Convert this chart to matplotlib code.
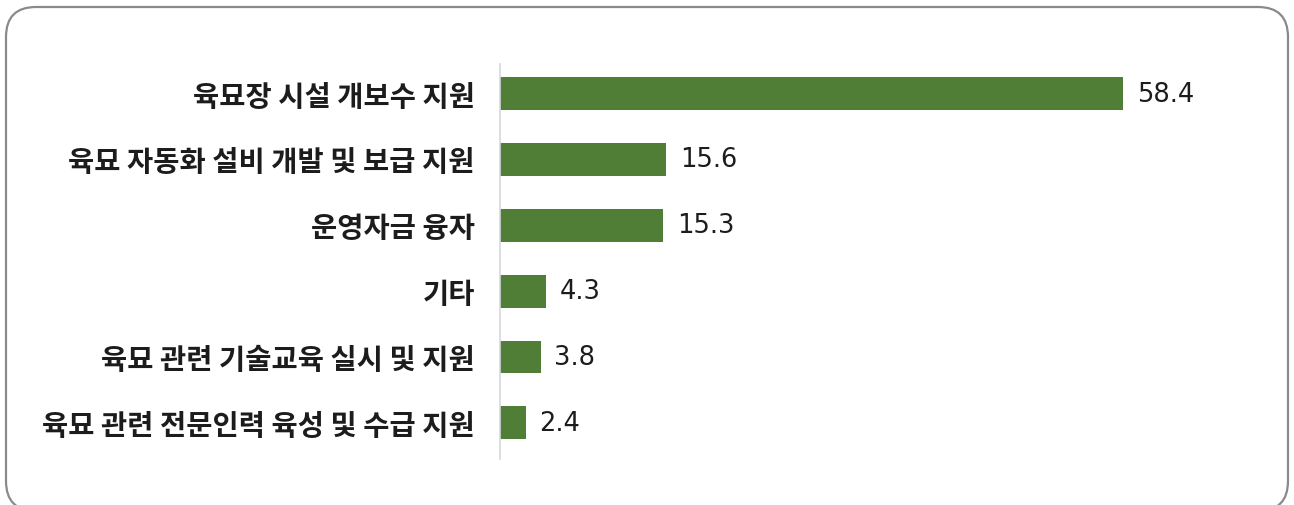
import numpy as np
import matplotlib.pyplot as plt
from matplotlib.patches import FancyBboxPatch

plt.rcParams['font.family'] = ['Noto Sans CJK KR', 'DejaVu Sans']

categories = ["육묘장 시설 개보수 지원",
              "육묘 자동화 설비 개발 및 보급 지원",
              "운영자금 융자",
              "기타",
              "육묘 관련 기술교육 실시 및 지원",
              "육묘 관련 전문인력 육성 및 수급 지원"]
values = [58.4, 15.6, 15.3, 4.3, 3.8, 2.4]

W, H = 1294, 506
fig = plt.figure(figsize=(W / 100, H / 100), dpi=100)

# rounded frame around everything (bottom edge runs just past the image)
frame = FancyBboxPatch((6 / W, -6 / H), (W - 12) / W, (H - 2) / H,
                       boxstyle="round,pad=0,rounding_size={}".format(30 / W),
                       transform=fig.transFigure, facecolor="none",
                       edgecolor="#8a8a8a", linewidth=1.6,
                       mutation_aspect=W / H, zorder=5)
fig.patches.append(frame)

ax = fig.add_axes([500 / W, 46 / H, 747 / W, 395 / H])
ax.set_facecolor("none")

y = np.arange(len(categories))
ax.barh(y, values, height=0.5, color="#517e37")
ax.set_ylim(len(categories) - 0.45, -0.45)
ax.set_xlim(0, 70)

for yi, v in zip(y, values):
    ax.text(v + 1.3, yi, "{:.1f}".format(v), va="center", ha="left",
            fontsize=18.5, color="#1c1c1c", family="DejaVu Sans")

ax.set_yticks(y)
ax.set_yticklabels(categories, fontsize=20.5, color="#1c1c1c", fontweight="bold")
ax.tick_params(axis="y", length=0, pad=18)
ax.set_xticks([])
for s in ["top", "right", "bottom"]:
    ax.spines[s].set_visible(False)
ax.spines["left"].set_color("#d4d8de")
ax.spines["left"].set_linewidth(1.2)

fig.savefig("out.png", dpi=100)
